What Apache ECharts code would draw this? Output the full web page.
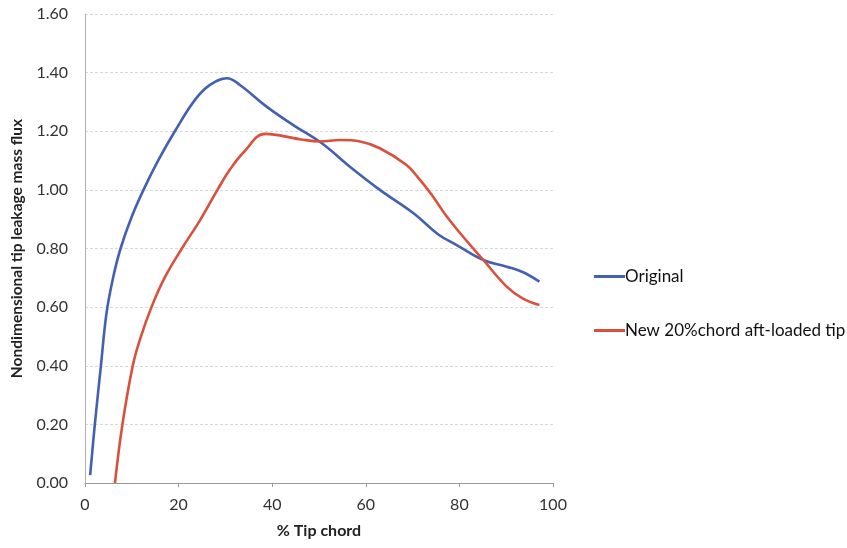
<!DOCTYPE html>
<html>
<head>
<meta charset="utf-8">
<script src="https://cdn.jsdelivr.net/npm/echarts@6/dist/echarts.min.js"></script>
<style>
  html, body { margin: 0; padding: 0; background: #fff; }
  #chart { width: 847px; height: 548px; }
</style>
</head>
<body>
<div id="chart"></div>
<script>
// Tip leakage mass flux along the tip chord
const originalX = [1.1, 2.1, 3.4, 4.6, 6.0, 7.6, 10.0, 12.5, 15.7, 19.2, 23.5, 26.7, 30.3, 33.1, 38.8, 44.5, 50.6, 56.6, 63, 70.2, 75.5, 79.6, 85.1, 90.1, 93.5, 97.1];
const originalY = [0.027, 0.20, 0.40, 0.58, 0.70, 0.80, 0.909, 1.00, 1.102, 1.20, 1.307, 1.358, 1.381, 1.358, 1.284, 1.221, 1.159, 1.079, 1.00, 0.92, 0.848, 0.81, 0.761, 0.738, 0.72, 0.687];

const newTipX = [6.4, 8.0, 10.2, 11.75, 14.2, 17, 20.7, 24.6, 28.3, 31, 34, 38.5, 45.9, 50.2, 54.5, 58.8, 63, 68.7, 71, 74, 77.3, 80.8, 85.1, 90.1, 93.5, 97.1];
const newTipY = [0.0, 0.20, 0.40, 0.49, 0.60, 0.70, 0.80, 0.897, 1.00, 1.07, 1.13, 1.191, 1.173, 1.165, 1.17, 1.165, 1.142, 1.085, 1.045, 0.985, 0.909, 0.84, 0.761, 0.67, 0.63, 0.607];

const seriesNames = ['Original', 'New 20%chord aft-loaded tip'];
const seriesColors = ['#4360b2', '#d9503c'];

const pairs = (xs, ys) => xs.map((x, i) => [x, ys[i]]);

const font = 'Lato, "Open Sans", sans-serif';

const chart = echarts.init(document.getElementById('chart'));
chart.setOption({
  animation: false,
  backgroundColor: '#ffffff',
  grid: { left: 85, right: 294, top: 14, bottom: 65 },
  legend: {
    orient: 'vertical',
    left: 589,
    top: 263,
    itemGap: 37,
    itemWidth: 31,
    itemHeight: 3,
    icon: 'rect',
    textStyle: { fontFamily: font, fontSize: 17, color: '#111', padding: [0, 0, 0, -5] },
    data: seriesNames
  },
  xAxis: {
    type: 'value',
    min: 0, max: 100, interval: 20,
    name: '% Tip chord',
    nameLocation: 'middle',
    nameGap: 40,
    nameTextStyle: { fontFamily: font, fontSize: 16, fontWeight: 'bold', color: '#222' },
    axisLine: { show: true, lineStyle: { color: '#9a9a9a', width: 1 } },
    axisTick: { show: true, length: 4, lineStyle: { color: '#9a9a9a' } },
    axisLabel: { fontFamily: font, fontSize: 16, color: '#333', margin: 14 },
    splitLine: { show: false }
  },
  yAxis: {
    type: 'value',
    min: 0, max: 1.6, interval: 0.2,
    name: 'Nondimensional tip leakage mass flux',
    nameLocation: 'middle',
    nameGap: 60,
    nameTextStyle: { fontFamily: font, fontSize: 15.5, fontWeight: 'bold', color: '#222' },
    axisLine: { show: true, lineStyle: { color: '#b0b0b0', width: 1 } },
    axisTick: { show: false },
    axisLabel: { fontFamily: font, fontSize: 16, color: '#333', margin: 17,
      formatter: v => v.toFixed(2) },
    splitLine: { show: true, lineStyle: { color: '#d3d9e0', width: 1, type: [3, 2] } }
  },
  series: [
    {
      name: seriesNames[0],
      type: 'line',
      data: pairs(originalX, originalY),
      smooth: 0.4,
      showSymbol: false,
      color: seriesColors[0],
      lineStyle: { width: 2.6, color: seriesColors[0] }
    },
    {
      name: seriesNames[1],
      type: 'line',
      data: pairs(newTipX, newTipY),
      smooth: 0.4,
      showSymbol: false,
      color: seriesColors[1],
      lineStyle: { width: 2.6, color: seriesColors[1] }
    }
  ]
});
</script>
</body>
</html>
